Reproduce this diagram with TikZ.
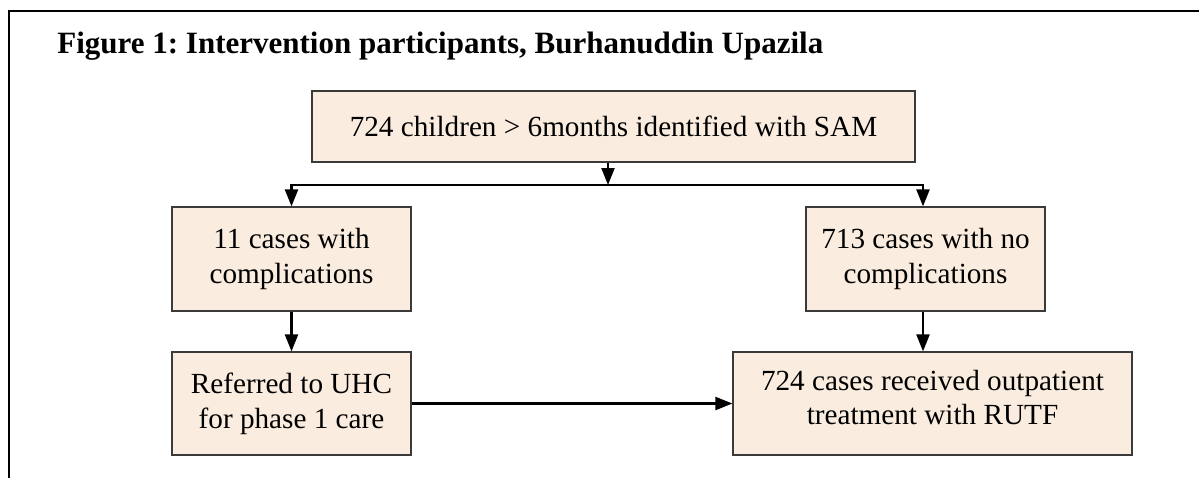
\documentclass[tikz,border=0pt]{standalone}
\usepackage{fontspec}
\setmainfont{Liberation Serif}
\usetikzlibrary{arrows.meta}
\frenchspacing
\definecolor{boxfill}{HTML}{FAEDE0}
\definecolor{boxline}{HTML}{3A3A3A}
\tikzset{
  flowbox/.style={draw=boxline, line width=0.6pt, fill=boxfill, align=center, inner sep=0pt,
    font=\fontsize{14.6}{17.4}\selectfont},
  conn/.style={line width=1.1pt, draw=black, -{Triangle[length=8.5pt,width=6.5pt]}},
  plainconn/.style={line width=1.1pt, draw=black},
  frameline/.style={line width=1.3pt, draw=black},
  bodytext/.style={align=center, inner sep=0pt, font=\fontsize{14.6}{17.4}\selectfont},
}
\begin{document}
\begin{tikzpicture}[x=0.5pt,y=-0.5pt]
\useasboundingbox (0,0) rectangle (1199,478);
% frame
\draw[frameline] (9,478) -- (9,11) -- (1199,11);
% title
\node[anchor=base west, inner sep=0pt, font=\fontsize{15.5}{18}\selectfont\bfseries] (title) at (57,53)
  {Figure 1: Intervention participants, Burhanuddin Upazila};
% boxes
\node[flowbox, minimum width=301.5pt, minimum height=35.5pt] (top) at (613.5,126.5)
  {724 children > 6months identified with SAM};
\node[flowbox, minimum width=119.5pt, minimum height=52pt] (lm) at (291.5,259)
  {11 cases with\\complications};
\node[flowbox, minimum width=119.5pt, minimum height=52pt] (rm) at (925.5,259)
  {713 cases with no\\complications};
\node[flowbox, minimum width=119.5pt, minimum height=51.5pt] (lb) at (291.5,403.5)
  {Referred to UHC\\for phase 1 care};
\node[flowbox, minimum width=199.5pt, minimum height=51.5pt] (rb) at (932.5,403.5) {};
\node[bodytext] (rbt) at ([yshift=3pt]rb.center)
  {724 cases received outpatient\\treatment with RUTF};
% connectors
\coordinate (by) at (0,185);
\draw[conn] ([xshift=-2.75pt]top.south) -- ([xshift=-2.75pt]top.south |- by);
\draw[plainconn, {Triangle[length=8.5pt,width=6.5pt]}-{Triangle[length=8.5pt,width=6.5pt]}]
  (lm.north) -- (lm.north |- by) -- ([xshift=-1.25pt]rm.north |- by) -- ([xshift=-1.25pt]rm.north);
\draw[conn] (lm.south) -- (lb.north);
\draw[conn] ([xshift=-1.25pt]rm.south) -- ([xshift=-1.25pt]rm.south |- rb.north);
\draw[conn] (lb.east) -- (rb.west);
\end{tikzpicture}
\end{document}
